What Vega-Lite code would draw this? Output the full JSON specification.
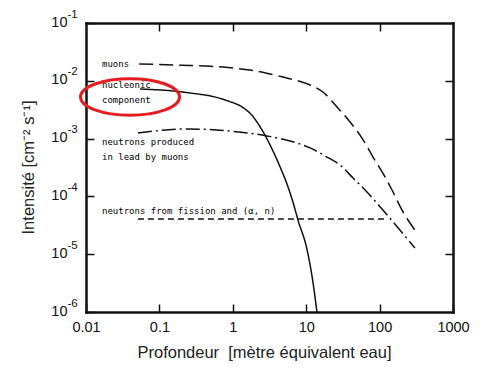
{
  "$schema": "https://vega.github.io/schema/vega-lite/v6.json",
  "width": 367,
  "height": 289,
  "autosize": {"type": "none"},
  "padding": {"left": 86, "top": 23, "right": 33, "bottom": 56},
  "background": "white",
  "config": {
    "view": {"stroke": null},
    "axis": {
      "grid": false,
      "domainColor": "#111",
      "domainWidth": 2.5,
      "domainCap": "square",
      "tickColor": "#111",
      "tickWidth": 1.5,
      "tickSize": -8,
      "labelFont": "Liberation Sans",
      "labelFontSize": 14.5,
      "labelColor": "#111",
      "titleFont": "Liberation Sans",
      "titleFontSize": 16.5,
      "titleFontWeight": "normal",
      "titleColor": "#222"
    }
  },
  "datasets": {
    "curves": [
      {"series": "muons", "x": 0.053, "y": 0.0196},
      {"series": "muons", "x": 0.2, "y": 0.0186},
      {"series": "muons", "x": 0.444, "y": 0.018},
      {"series": "muons", "x": 1.0, "y": 0.0166},
      {"series": "muons", "x": 1.71, "y": 0.0154},
      {"series": "muons", "x": 3.0, "y": 0.0134},
      {"series": "muons", "x": 4.83, "y": 0.0116},
      {"series": "muons", "x": 11.3, "y": 0.00845},
      {"series": "muons", "x": 16.9, "y": 0.0064},
      {"series": "muons", "x": 26.3, "y": 0.00352},
      {"series": "muons", "x": 39.5, "y": 0.00194},
      {"series": "muons", "x": 57.6, "y": 0.00102},
      {"series": "muons", "x": 81.3, "y": 0.00048},
      {"series": "muons", "x": 118.5, "y": 0.000217},
      {"series": "muons", "x": 147.6, "y": 0.000129},
      {"series": "muons", "x": 202, "y": 0.000058},
      {"series": "muons", "x": 303, "y": 0.000026},
      {"series": "nucleonic", "x": 0.0545, "y": 0.0072},
      {"series": "nucleonic", "x": 0.153, "y": 0.00667},
      {"series": "nucleonic", "x": 0.261, "y": 0.00615},
      {"series": "nucleonic", "x": 0.572, "y": 0.00525},
      {"series": "nucleonic", "x": 0.861, "y": 0.00448},
      {"series": "nucleonic", "x": 1.334, "y": 0.00353},
      {"series": "nucleonic", "x": 1.809, "y": 0.00256},
      {"series": "nucleonic", "x": 2.348, "y": 0.001606},
      {"series": "nucleonic", "x": 2.897, "y": 0.001012},
      {"series": "nucleonic", "x": 3.563, "y": 0.000593},
      {"series": "nucleonic", "x": 4.396, "y": 0.000326},
      {"series": "nucleonic", "x": 5.424, "y": 0.0001684},
      {"series": "nucleonic", "x": 6.674, "y": 0.000076},
      {"series": "nucleonic", "x": 7.73, "y": 0.000039},
      {"series": "nucleonic", "x": 10.3, "y": 0.0000118},
      {"series": "nucleonic", "x": 12.4, "y": 0.00000318},
      {"series": "nucleonic", "x": 14.0, "y": 0.000001},
      {"series": "lead", "x": 0.051, "y": 0.00125},
      {"series": "lead", "x": 0.238, "y": 0.00147},
      {"series": "lead", "x": 0.916, "y": 0.00135},
      {"series": "lead", "x": 2.92, "y": 0.00111},
      {"series": "lead", "x": 7.5, "y": 0.00084},
      {"series": "lead", "x": 11.3, "y": 0.00069},
      {"series": "lead", "x": 19.2, "y": 0.00048},
      {"series": "lead", "x": 28.8, "y": 0.00035},
      {"series": "lead", "x": 43.5, "y": 0.000208},
      {"series": "lead", "x": 67.3, "y": 0.000119},
      {"series": "lead", "x": 111, "y": 0.000058},
      {"series": "lead", "x": 190, "y": 0.000026},
      {"series": "lead", "x": 303, "y": 0.0000128},
      {"series": "fission", "x": 0.051, "y": 0.0000407},
      {"series": "fission", "x": 130, "y": 0.0000407}
    ],
    "labels": [
      {"x": 0.0165, "y": 0.0196, "text": "muons"},
      {"x": 0.0165, "y": 0.00845, "text": "nucleonic"},
      {"x": 0.0165, "y": 0.00466, "text": "component"},
      {"x": 0.0165, "y": 0.000873, "text": "neutrons produced"},
      {"x": 0.0165, "y": 0.00048, "text": "in lead by muons"},
      {"x": 0.0165, "y": 0.0000558, "text": "neutrons from fission and (α, n)"}
    ],
    "highlight": [
      {"x": 0.0398, "y": 0.00525}
    ]
  },
  "layer": [
    {
      "data": {"name": "curves"},
      "mark": {"type": "line", "color": "#111", "strokeWidth": 1.5, "interpolate": "monotone"},
      "encoding": {
        "x": {
          "field": "x", "type": "quantitative",
          "scale": {"type": "log", "domain": [0.01, 1000], "nice": false},
          "axis": {
            "orient": "bottom",
            "values": [0.01, 0.1, 1, 10, 100, 1000],
            "format": "~g",
            "labelPadding": 23,
            "labelBaseline": "middle",
            "labelFlush": false,
            "title": "Profondeur\u00a0 [mètre équivalent eau]",
            "titleX": 178,
            "titleY": 40,
            "titleBaseline": "middle"
          }
        },
        "y": {
          "field": "y", "type": "quantitative",
          "scale": {"type": "log", "domain": [0.000001, 0.1], "nice": false},
          "axis": {
            "orient": "left",
            "values": [0.000001, 0.00001, 0.0001, 0.001, 0.01, 0.1],
            "labelExpr": "'10'",
            "labelPadding": 27,
            "labelBaseline": "middle",
            "labelOffset": -1,
            "labelFlush": false,
            "title": "Intensité [cm⁻² s⁻¹]",
            "titleX": -58,
            "titleY": 144,
            "titleAngle": -90,
            "titleBaseline": "middle"
          }
        },
        "detail": {"field": "series"},
        "strokeDash": {
          "field": "series", "type": "nominal",
          "scale": {
            "domain": ["muons", "nucleonic", "lead", "fission"],
            "range": [[14, 6], [1, 0], [14, 4, 2, 4], [6, 4]]
          },
          "legend": null
        }
      }
    },
    {
      "data": {"name": "labels"},
      "mark": {"type": "text", "font": "DejaVu Sans Mono", "fontSize": 9, "color": "#000", "align": "left", "baseline": "middle"},
      "encoding": {
        "x": {
          "field": "x", "type": "quantitative",
          "axis": {"orient": "top", "values": [0.1, 1, 10, 100], "labels": false, "title": null}
        },
        "y": {
          "field": "y", "type": "quantitative",
          "axis": {"orient": "right", "values": [0.00001, 0.0001, 0.001, 0.01], "labels": false, "title": null}
        },
        "text": {"field": "text"}
      }
    },
    {
      "data": {"name": "highlight"},
      "mark": {
        "type": "point",
        "shape": "M -1 0 A 1 0.37 0 1 1 1 0 A 1 0.37 0 1 1 -1 0 Z",
        "size": 9800,
        "filled": false,
        "color": "#e41e1e",
        "strokeWidth": 3,
        "opacity": 1
      },
      "encoding": {
        "x": {"field": "x", "type": "quantitative", "axis": null},
        "y": {
          "field": "y", "type": "quantitative",
          "axis": {
            "orient": "left",
            "values": [0.000001, 0.00001, 0.0001, 0.001, 0.01, 0.1],
            "labelExpr": "datum.value > 0.05 ? '-1' : datum.value > 0.005 ? '-2' : datum.value > 0.0005 ? '-3' : datum.value > 0.00005 ? '-4' : datum.value > 0.000005 ? '-5' : '-6'",
            "domain": false,
            "ticks": false,
            "labelAlign": "left",
            "labelBaseline": "middle",
            "labelPadding": 19,
            "labelOffset": -9,
            "labelFontSize": 11.5,
            "labelFlush": false,
            "title": null
          }
        }
      }
    }
  ],
  "resolve": {"axis": {"x": "independent", "y": "independent"}}
}
